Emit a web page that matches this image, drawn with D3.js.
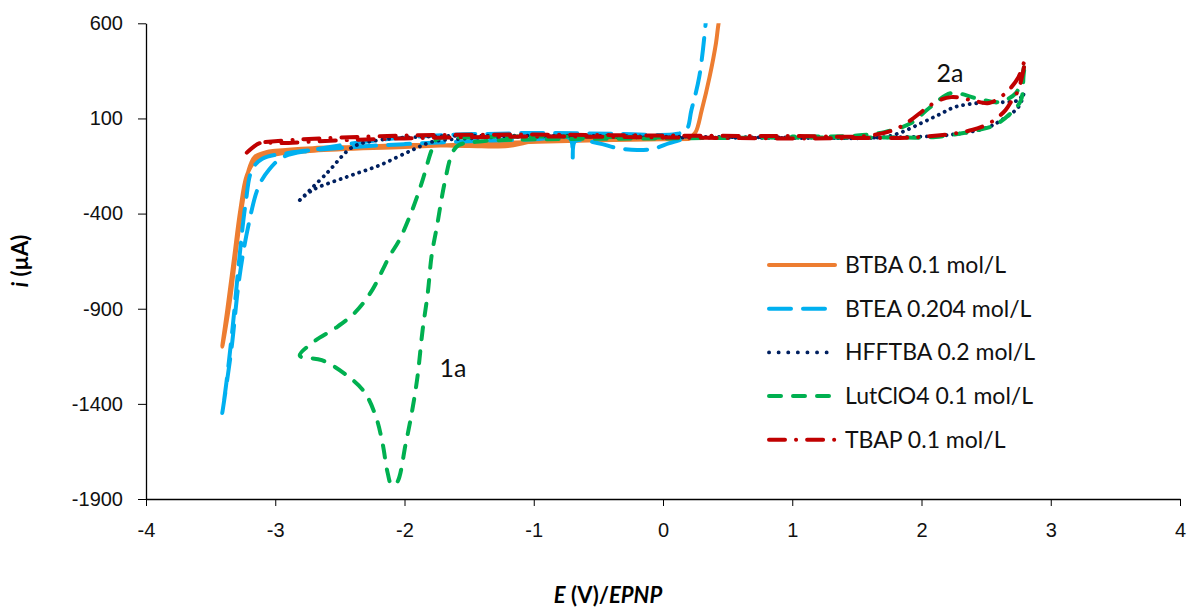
<!DOCTYPE html>
<html>
<head>
<meta charset="utf-8">
<script src="https://cdn.jsdelivr.net/npm/d3@7"></script>
<style>
  body { margin: 0; background: #fff; }
  svg { font-family: Lato, "Open Sans", sans-serif; }
  .tick text { font-size: 20px; fill: #111; }
</style>
</head>
<body>
<svg id="chart" width="1191" height="610"></svg>
<script>
// data: [E (V), i (µA)]
const btba = [[0.46,700],[0.43,600],[0.41,496],[0.36,317],[0.30,144],[0.25,25],[0.20,-3],[0,-5],[-0.5,-8],[-1.0,-20],[-1.2,-45],[-1.5,-45],[-1.94,-40],[-2.4,-50],[-2.71,-56],[-3.0,-70],[-3.07,-77],[-3.16,-103],[-3.21,-182],[-3.25,-329],[-3.30,-577],[-3.35,-855],[-3.41,-1100],
  [-3.37,-900],[-3.32,-640],[-3.27,-380],[-3.22,-200],[-3.16,-128],[-3.05,-95],[-2.7,-70],[-2.0,-50],[-1.3,-30],[-0.5,-15],[0,-10],[0.2,-8]]
const btea = [[0.34,700],[0.33,600],[0.28,317],[0.22,144],[0.18,39],[0.1,18],[-0.4,20],[-1.0,24],[-1.27,20],[-1.68,13],[-2.19,-13],[-2.71,-66],[-2.94,-103],[-3.05,-171],[-3.13,-260],[-3.21,-470],[-3.28,-749],[-3.34,-1117],[-3.41,-1448],
  [-3.38,-1300],[-3.33,-1000],[-3.28,-650],[-3.23,-350],[-3.18,-170],[-3.1,-112],[-2.9,-82],[-2.5,-55],[-2.0,-35],[-1.5,-20],[-1.0,-10],[-0.72,-5],[-0.70,-110],[-0.68,-20],[-0.5,-30],[-0.36,-55],[-0.2,-66],[-0.08,-60],[0.05,-30],[0.15,-10]]
const hfftba = [[-2.81,-329],[-2.71,-276],[-2.45,-208],[-2.19,-145],[-1.94,-66],[-1.79,-24],[-1.5,-5],[-1.0,5],[0,0],[1.0,-3],[1.36,-3],[1.92,3],[2.21,13],[2.50,50],[2.62,92],[2.75,160],[2.79,233],
  [2.75,196],[2.65,186],[2.44,181],[2.26,160],[2.13,118],[2.0,76],[1.85,29],[1.72,3],[1.0,0],[0,5],[-1.0,10],[-1.8,5],[-2.19,-13],[-2.40,-50],[-2.60,-187],[-2.81,-329]]
const lutclo4 = [[0,0],[-1.0,5],[-1.5,0],[-1.75,-10],[-1.79,-66],[-1.86,-224],[-1.94,-381],[-2.04,-539],[-2.12,-629],[-2.25,-802],[-2.38,-918],[-2.53,-1000],[-2.7,-1073],[-2.81,-1147],
  [-2.64,-1170],[-2.45,-1248],[-2.31,-1338],[-2.22,-1470],[-2.17,-1607],[-2.13,-1764],[-2.10,-1825],[-2.06,-1815],[-1.99,-1607],[-1.94,-1433],[-1.90,-1260],[-1.86,-1013],[-1.82,-818],[-1.79,-620],[-1.75,-471],[-1.69,-240],[-1.63,-82],[-1.58,-40],
  [-1.4,-20],[-1.0,-10],[0,-5],[1.0,0],[1.72,0],[2.11,3],[2.44,39],[2.57,66],[2.70,134],[2.77,197],[2.79,330],[2.80,391],
  [2.77,302],[2.73,233],[2.60,186],[2.42,207],[2.23,233],[2.06,155],[1.92,76],[1.72,29],[1.5,10],[1.0,5]]
const tbap = [[-3.22,-80],[-3.12,-30],[-2.97,-30],[-2.5,-15],[-2.0,-5],[-1.0,5],[0,0],[1.0,-5],[1.5,-3],[2.0,3],[2.39,39],[2.54,81],[2.65,144],[2.71,207],[2.75,250],[2.80,407],
  [2.75,317],[2.65,233],[2.52,181],[2.39,196],[2.23,212],[2.11,186],[1.82,50],[1.6,10],[1.0,8],[0,10],[-1.0,15],[-2.0,10],[-2.8,-10],[-3.1,-25]]

const seriesNames = ["BTBA 0.1 mol/L", "BTEA 0.204 mol/L", "HFFTBA 0.2 mol/L", "LutClO4 0.1 mol/L", "TBAP 0.1 mol/L"]
const seriesData = [btba, btea, hfftba, lutclo4, tbap]
const xTicks = [-4, -3, -2, -1, 0, 1, 2, 3, 4]
const yTicks = [-1900, -1400, -900, -400, 100, 600]

// line looks per series
const styles = [
  { color: "#ED7D31", width: 4, dash: null, cap: "round" },
  { color: "#00B0F0", width: 4, dash: "22 12", cap: "round" },
  { color: "#002060", width: 3.8, dash: "0.1 6.5", cap: "round" },
  { color: "#00B050", width: 4, dash: "12 12", cap: "round" },
  { color: "#C00000", width: 4, dash: "16 11 0.1 11", cap: "round" }
]

const svg = d3.select("#chart")

const x = d3.scaleLinear().domain([-4, 4]).range([146, 1180])
const y = d3.scaleLinear().domain([-1900, 600]).range([499, 23.3])

svg.append("clipPath").attr("id", "plotClip")
  .append("rect")
  .attr("x", 146).attr("y", 23.3)
  .attr("width", 1180 - 146).attr("height", 499 - 23.3)

// AXES
const yAxis = svg.append("g")
  .attr("transform", "translate(146,0)")
  .call(d3.axisLeft(y).tickValues(yTicks).tickFormat(d => String(d)).tickSize(8).tickPadding(15).tickSizeOuter(0))
yAxis.select(".domain").attr("stroke", "#000").attr("stroke-width", 1.3)

const xAxis = svg.append("g")
  .attr("transform", "translate(0,499)")
  .call(d3.axisBottom(x).tickValues(xTicks).tickFormat(d => String(d)).tickSize(7).tickPadding(17).tickSizeOuter(0))
xAxis.select(".domain").attr("stroke", "#000").attr("stroke-width", 1.3)

// CURVES
const line = d3.line()
  .x(d => x(d[0]))
  .y(d => y(d[1]))
  .curve(d3.curveCatmullRom.alpha(0.5))

svg.append("g")
  .attr("clip-path", "url(#plotClip)")
  .selectAll("path")
  .data(seriesData)
  .join("path")
  .attr("d", line)
  .attr("fill", "none")
  .attr("stroke", (d, i) => styles[i].color)
  .attr("stroke-width", (d, i) => styles[i].width)
  .attr("stroke-dasharray", (d, i) => styles[i].dash)
  .attr("stroke-linecap", (d, i) => styles[i].cap)
  .attr("stroke-linejoin", "round")

// LABELS
svg.append("text").attr("x", 453).attr("y", 377).attr("text-anchor", "middle")
  .attr("font-size", 25).attr("fill", "#111").text("1a")
svg.append("text").attr("x", 950).attr("y", 82).attr("text-anchor", "middle")
  .attr("font-size", 25).attr("fill", "#111").text("2a")

// axis titles
const yt = svg.append("text")
  .attr("transform", "translate(28,261) rotate(-90)")
  .attr("text-anchor", "middle")
  .attr("font-size", 22).attr("font-weight", "bold")
yt.append("tspan").attr("font-style", "italic").text("i")
yt.append("tspan").text(" (µA)")

const xt = svg.append("text")
  .attr("x", 608).attr("y", 603)
  .attr("text-anchor", "middle")
  .attr("font-size", 22).attr("font-weight", "bold")
xt.append("tspan").attr("font-style", "italic").text("E")
xt.append("tspan").text(" (V)/")
xt.append("tspan").attr("font-style", "italic").text("EPNP")

// LEGEND
const legend = svg.append("g")
  .selectAll("g")
  .data(seriesNames)
  .join("g")
  .attr("transform", (d, i) => `translate(0,${265 + i * 43.7})`)

legend.append("line")
  .attr("x1", 769).attr("x2", 835)
  .attr("stroke", (d, i) => styles[i].color)
  .attr("stroke-width", (d, i) => styles[i].width)
  .attr("stroke-dasharray", (d, i) => i === 2 ? "0.1 9.5" : styles[i].dash)
  .attr("stroke-linecap", (d, i) => styles[i].cap)

legend.append("text")
  .attr("x", 845).attr("y", 8)
  .attr("font-size", 23)
  .attr("fill", "#111")
  .text(d => d)
</script>
</body>
</html>
